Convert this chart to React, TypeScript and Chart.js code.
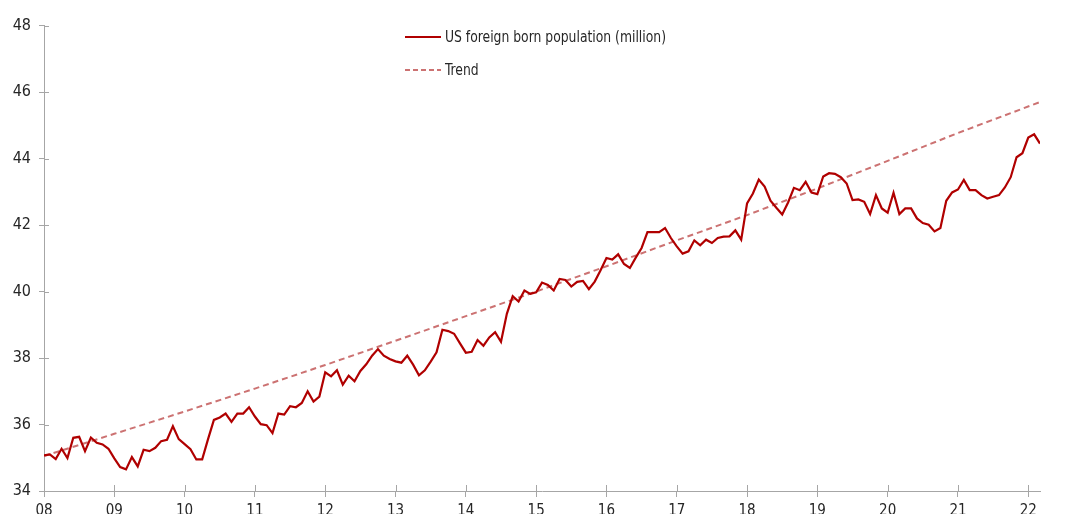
import React, { useEffect, useRef } from "react";
import { Chart, registerables } from "chart.js";

Chart.register(...registerables);

// ---- Data (monthly, Jan 2008 - Mar 2022), million ----
const START_YEAR = 2008;
const pop2008 = [35.07, 35.10, 34.96, 35.27, 34.99, 35.60, 35.63, 35.20, 35.61, 35.45, 35.40, 35.27];
const pop2009 = [34.98, 34.72, 34.65, 35.02, 34.74, 35.24, 35.20, 35.30, 35.50, 35.54, 35.95, 35.56];
const pop2010 = [35.41, 35.26, 34.95, 34.95, 35.56, 36.14, 36.21, 36.33, 36.08, 36.33, 36.33, 36.52];
const pop2011 = [36.24, 36.01, 35.98, 35.74, 36.33, 36.30, 36.55, 36.52, 36.65, 37.00, 36.69, 36.84];
const pop2012 = [37.57, 37.45, 37.63, 37.20, 37.47, 37.30, 37.61, 37.81, 38.07, 38.27, 38.07, 37.97];
const pop2013 = [37.90, 37.86, 38.07, 37.80, 37.48, 37.63, 37.89, 38.17, 38.85, 38.81, 38.73, 38.44];
const pop2014 = [38.16, 38.19, 38.54, 38.37, 38.62, 38.78, 38.49, 39.33, 39.86, 39.70, 40.03, 39.93];
const pop2015 = [39.98, 40.27, 40.20, 40.03, 40.38, 40.35, 40.15, 40.29, 40.32, 40.07, 40.30, 40.64];
const pop2016 = [41.01, 40.96, 41.12, 40.83, 40.71, 41.02, 41.31, 41.79, 41.79, 41.79, 41.91, 41.61];
const pop2017 = [41.36, 41.14, 41.21, 41.54, 41.39, 41.56, 41.46, 41.61, 41.65, 41.66, 41.84, 41.56];
const pop2018 = [42.65, 42.95, 43.37, 43.16, 42.73, 42.52, 42.32, 42.68, 43.12, 43.05, 43.30, 42.98];
const pop2019 = [42.93, 43.46, 43.56, 43.54, 43.44, 43.25, 42.75, 42.77, 42.70, 42.33, 42.90, 42.50];
const pop2020 = [42.37, 42.97, 42.33, 42.50, 42.50, 42.20, 42.06, 42.01, 41.81, 41.91, 42.73, 42.98];
const pop2021 = [43.07, 43.36, 43.05, 43.05, 42.90, 42.80, 42.85, 42.90, 43.13, 43.44, 44.04, 44.16];
const pop2022 = [44.63, 44.73, 44.45];

const population = [
  ...pop2008, ...pop2009, ...pop2010, ...pop2011, ...pop2012, ...pop2013, ...pop2014,
  ...pop2015, ...pop2016, ...pop2017, ...pop2018, ...pop2019, ...pop2020, ...pop2021, ...pop2022,
];

// Trend read at each January and at the last month (Mar 2022)
const trendDates = [2008, 2009, 2010, 2011, 2012, 2013, 2014, 2015, 2016, 2017, 2018, 2019, 2020, 2021, 2022 + 2 / 12];
const trendValues = [35.05, 35.72, 36.39, 37.08, 37.79, 38.52, 39.26, 40.00, 40.76, 41.54, 42.30, 43.10, 43.93, 44.77, 45.70];

const xTickLabels = ["08", "09", "10", "11", "12", "13", "14", "15", "16", "17", "18", "19", "20", "21", "22"];
const yTicks = [34, 36, 38, 40, 42, 44, 46, 48];

const SERIES_LABEL = "US foreign born population (million)";
const TREND_LABEL = "Trend";

const FONT = "'DejaVu Sans Condensed', 'DejaVu Sans', sans-serif";
const STRETCH = "condensed";
const LINE_COLOR = "#b00000";
const TREND_COLOR = "#cc7272";
const AXIS_COLOR = "#a6a6a6";
const TEXT_COLOR = "#262626";

const innerTicksPlugin = {
  id: "innerTicks",
  afterDraw(chart: any) {
    const { ctx, chartArea, scales } = chart;
    ctx.save();
    ctx.strokeStyle = AXIS_COLOR;
    ctx.lineWidth = 1;
    scales.x.ticks.forEach((t: any) => {
      const px = Math.round(scales.x.getPixelForValue(t.value)) + 0.5;
      ctx.beginPath();
      ctx.moveTo(px, chartArea.bottom);
      ctx.lineTo(px, chartArea.bottom - 6);
      ctx.stroke();
    });
    scales.y.ticks.forEach((t: any) => {
      const py = Math.round(scales.y.getPixelForValue(t.value)) + 0.5;
      ctx.beginPath();
      ctx.moveTo(chartArea.left, py);
      ctx.lineTo(chartArea.left + 5, py);
      ctx.stroke();
    });
    ctx.restore();
  },
};

const legendPlugin = {
  id: "customLegend",
  afterDraw(chart: any) {
    const { ctx } = chart;
    const x0 = 397;
    const rows = [
      { label: chart.data.datasets[0].label, color: LINE_COLOR, dash: [] as number[], width: 2.2, y: 29 },
      { label: chart.data.datasets[1].label, color: TREND_COLOR, dash: [5, 3], width: 2, y: 62 },
    ];
    ctx.save();
    ctx.font = `${STRETCH} 16px ${FONT}`;
    const natural = ctx.measureText(rows[0].label).width;
    const squeeze = Math.min(1, 221 / natural);
    rows.forEach((r) => {
      ctx.strokeStyle = r.color;
      ctx.lineWidth = r.width;
      ctx.setLineDash(r.dash);
      ctx.beginPath();
      ctx.moveTo(x0, r.y);
      ctx.lineTo(x0 + 36, r.y);
      ctx.stroke();
      ctx.setLineDash([]);
      ctx.fillStyle = TEXT_COLOR;
      ctx.textBaseline = "middle";
      ctx.textAlign = "left";
      ctx.save();
      ctx.translate(x0 + 40, r.y + 1);
      ctx.scale(squeeze, 1);
      ctx.fillText(r.label, 0, 0);
      ctx.restore();
    });
    ctx.restore();
  },
};

export default function App() {
  const canvasRef = useRef<HTMLCanvasElement | null>(null);

  useEffect(() => {
    if (!canvasRef.current) return;
    const chart = new Chart(canvasRef.current, {
      type: "line",
      data: {
        datasets: [
          {
            label: SERIES_LABEL,
            data: population.map((v, i) => ({ x: START_YEAR + i / 12, y: v })),
            borderColor: LINE_COLOR,
            backgroundColor: LINE_COLOR,
            borderWidth: 2.2,
            pointRadius: 0,
            tension: 0,
            order: 1,
          },
          {
            label: TREND_LABEL,
            data: trendDates.map((d, i) => ({ x: d, y: trendValues[i] })),
            borderColor: TREND_COLOR,
            backgroundColor: TREND_COLOR,
            borderWidth: 2,
            borderDash: [6, 4],
            pointRadius: 0,
            tension: 0,
            order: 2,
          },
        ],
      },
      options: {
        responsive: false,
        animation: false,
        layout: { padding: { left: 0, top: 12, right: 24, bottom: 0 } },
        plugins: {
          legend: { display: false },
          tooltip: { enabled: false },
        },
        scales: {
          x: {
            type: "linear",
            min: START_YEAR,
            max: START_YEAR + (population.length - 1) / 12,
            afterFit: (s: any) => {
              s.height = 23;
            },
            ticks: {
              stepSize: 1,
              includeBounds: false,
              autoSkip: false,
              maxRotation: 0,
              padding: 5,
              color: TEXT_COLOR,
              font: { family: FONT, size: 15, weight: STRETCH },
              callback: (value: any) => xTickLabels[Math.round(Number(value)) - START_YEAR] ?? "",
            },
            grid: { drawOnChartArea: false, drawTicks: true, tickLength: 6, color: AXIS_COLOR },
            border: { color: AXIS_COLOR, width: 1 },
          },
          y: {
            type: "linear",
            min: yTicks[0],
            max: yTicks[yTicks.length - 1],
            afterFit: (s: any) => {
              s.width = 36;
            },
            afterBuildTicks: (s: any) => {
              s.ticks = yTicks.map((v) => ({ value: v }));
            },
            ticks: {
              padding: 8,
              color: TEXT_COLOR,
              font: { family: FONT, size: 16, weight: STRETCH },
              callback: (value: any) => String(value),
            },
            grid: { drawOnChartArea: false, drawTicks: true, tickLength: 5, color: AXIS_COLOR },
            border: { color: AXIS_COLOR, width: 1 },
          },
        },
      },
      plugins: [innerTicksPlugin, legendPlugin],
    } as any);
    return () => chart.destroy();
  }, []);

  return (
    <div style={{ width: 1056, height: 506 }}>
      <canvas ref={canvasRef} width={1056} height={506} style={{ display: "block" }} />
    </div>
  );
}
